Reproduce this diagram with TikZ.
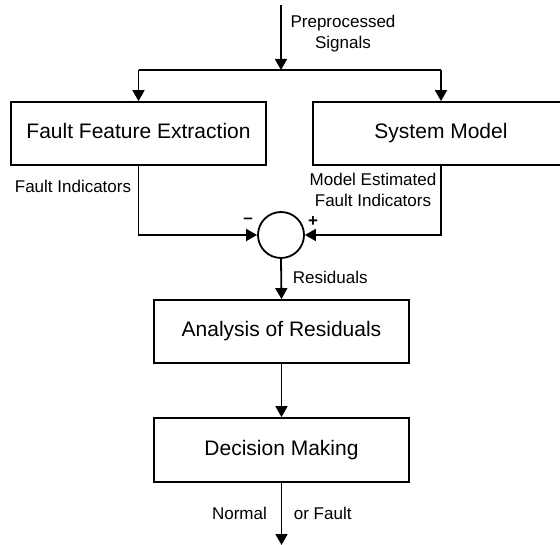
\documentclass[tikz,border=0pt]{standalone}
\usepackage{fontspec}
\setmainfont{Liberation Sans}
\usetikzlibrary{arrows.meta}
\begin{document}
\begin{tikzpicture}[x=1pt,y=-1pt,
  line width=1.8pt,
  arr/.style={-{Triangle[length=11pt,width=12pt]}},
  blk/.style={draw,rectangle,minimum height=63pt,inner sep=0pt,text height=15pt,text depth=4pt,font=\fontsize{21}{25}\selectfont},
  lbl/.style={inner sep=0pt,font=\fontsize{17}{21}\selectfont}]
\useasboundingbox (0,0) rectangle (560,545);
\clip (0,0) rectangle (560,545);
\node[blk,minimum width=255pt] (ffe) at (138.5,133.5) {Fault Feature Extraction};
\node[blk,minimum width=256pt] (sm) at (441,133.5) {System Model};
\node[draw,circle,minimum size=46pt,inner sep=0pt] (sum) at (281,235) {};
\node[blk,minimum width=255pt] (ana) at (281.5,331.5) {Analysis of Residuals};
\node[blk,minimum width=255pt,minimum height=64pt] (dec) at (281.5,450) {Decision Making};
\coordinate (in) at (281,5);
\coordinate (split) at (281,70);
\coordinate (out) at (281.5,545);
\draw[arr] (in) -- (split);
\draw (split -| ffe.north) -- (split -| sm.north);
\draw[arr] (split -| ffe.north) -- (ffe.north);
\draw[arr] (split -| sm.north) -- (sm.north);
\draw[arr] (ffe.south) |- (sum.west);
\draw[arr] (sm.south) |- (sum.east);
\draw[arr] (sum.south) -- (ana.north);
\draw[arr] (ana.south) -- (dec.north);
\draw[arr] (dec.south) -- (out);
\node[lbl,align=center] (pre) at (343,34) {Preprocessed\\Signals};
\node[lbl,anchor=east] (fi) at (132,186) {Fault Indicators};
\node[lbl,align=center] (mefi) at (373,190) {Model Estimated\\Fault Indicators};
\node[lbl] (minus) at (248,221) {\textbf{\textendash}};
\node[lbl] (plus) at (313,222) {\textbf{+}};
\node[lbl,anchor=west] (res) at (292,277) {Residuals};
\node[lbl] (nor) at (239.5,513) {Normal};
\node[lbl,anchor=west] (orf) at (293,513) {or Fault};
\end{tikzpicture}
\end{document}
